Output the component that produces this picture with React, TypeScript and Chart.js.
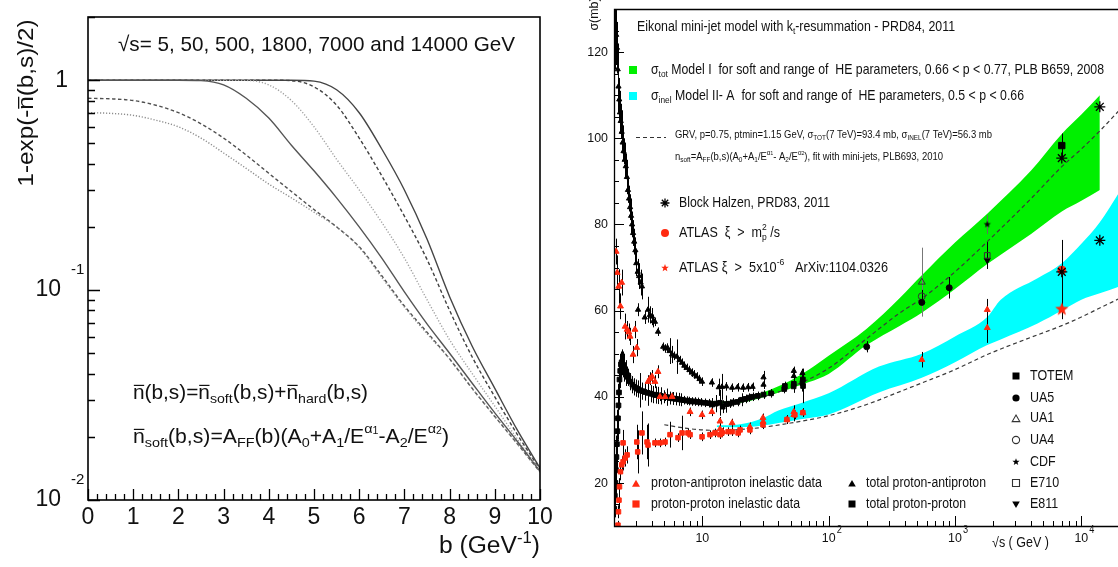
import React, { useEffect, useRef } from 'react';
import { Chart, registerables } from 'chart.js';
Chart.register(...registerables);

const FONT = '"Liberation Sans", Arial, Helvetica, sans-serif';

// ================= LEFT PANEL DATA =================
const bValues = [0, 0.5, 1, 1.5, 2, 2.5, 3, 3.5, 4, 4.5, 5, 5.5, 6, 6.5, 7, 7.5, 8, 8.5, 9, 9.5, 10];
const energyLabels = ['5 GeV', '50 GeV', '500 GeV', '1800 GeV', '7000 GeV', '14000 GeV'];
const prob5 = [0.70, 0.695, 0.68, 0.645, 0.60, 0.53, 0.45, 0.38, 0.32, 0.275, 0.235, 0.20, 0.16, 0.115, 0.083, 0.062, 0.047, 0.034, 0.025, 0.0185, 0.0136];
const prob50 = [0.82, 0.815, 0.80, 0.76, 0.70, 0.62, 0.53, 0.44, 0.36, 0.295, 0.242, 0.20, 0.161, 0.117, 0.084, 0.063, 0.047, 0.034, 0.025, 0.0185, 0.0136];
const prob500 = [1, 1, 1, 1, 1, 0.995, 0.95, 0.82, 0.66, 0.49, 0.37, 0.275, 0.20, 0.142, 0.098, 0.069, 0.050, 0.036, 0.026, 0.019, 0.0137];
const prob1800 = [1, 1, 1, 1, 1, 1, 1, 0.998, 0.95, 0.80, 0.60, 0.42, 0.30, 0.21, 0.142, 0.09, 0.058, 0.040, 0.028, 0.0195, 0.0138];
const prob7000 = [1, 1, 1, 1, 1, 1, 1, 1, 1, 0.995, 0.93, 0.76, 0.53, 0.35, 0.225, 0.14, 0.08, 0.048, 0.031, 0.0205, 0.014];
const prob14000 = [1, 1, 1, 1, 1, 1, 1, 1, 1, 1, 0.99, 0.90, 0.70, 0.47, 0.30, 0.175, 0.093, 0.054, 0.034, 0.0215, 0.0142];
const leftXTicks = [0, 1, 2, 3, 4, 5, 6, 7, 8, 9, 10];
const leftYTicks = [1, 0.1, 0.01];
const leftYTickText = ['1', '10', '10'];
const leftYTickExp = ['', '-1', '-2'];

// ================= RIGHT PANEL DATA =================
// total proton-antiproton (black triangles)
const pbarTotS = [2.02, 2.05, 2.08, 2.11, 2.14, 2.17, 2.2, 2.23, 2.26, 2.3, 2.34, 2.38, 2.43, 2.48, 2.53, 2.58, 2.63, 2.68, 2.73, 2.78, 2.83, 2.89, 2.95, 3.0, 3.08, 3.16, 3.25, 3.33,
  3.1, 3.5, 3.72, 3.85, 4.0, 4.1, 4.22, 4.46, 4.9, 5.1, 5.3, 5.5, 5.76, 6.0, 6.3, 6.6, 6.9, 7.2, 7.5, 7.9, 8.25, 8.6, 9.0, 9.5, 9.95, 11.9, 13.5, 14.3, 15.5, 17.2, 19, 21, 23, 25, 30.5, 30.5, 53, 53, 62];
const pbarTotSig = [127, 125, 124, 121, 116, 112, 109, 106, 104, 101.5, 99, 97, 95, 93.5, 91, 88, 86, 84, 82, 80, 78, 76, 74, 71, 69, 68, 66.5, 65.6,
  60.2, 58.4, 60.2, 59, 58.6, 57.6, 57.4, 55.1, 51.6, 51.2, 51.4, 50.6, 49.8, 49.5, 49.3, 48.5, 47.9, 47.2, 46.7, 46.2, 45.6, 45.2, 44.7, 44.1, 43.5, 43.3, 42.2, 42.3, 42.4, 42.1, 42.2, 42.1, 42.2, 42.3, 42.8, 44.5, 44.8, 46.0, 45.5];
const pbarTotErr = [8, 9, 7, 6, 6, 6, 5, 5, 4, 5, 4, 3, 4, 3, 4, 3, 3, 3, 4, 3, 3, 3, 3, 3, 3, 3, 3, 3,
  1.5, 1.5, 3, 2, 2, 1.5, 1, 1, 1, 1, 1, 3, 2, 1, 4, 1, 1, 1, 1, 1, 1, 1, 1, 1, 1, 1, 2, 3, 1, 1, 1, 1, 1, 1, 1, 1.5, 1, 1, 1];
// total proton-proton (black squares)
const ppTotS = [2.01, 2.03, 2.05, 2.07, 2.09, 2.11, 2.13, 2.15, 2.17, 2.19, 2.21, 2.24, 2.27, 2.3, 2.34, 2.38, 2.42, 2.46, 2.5, 2.55, 2.6, 2.7, 2.8, 2.9, 3.0, 3.1, 3.2, 3.35, 3.5, 3.7, 3.9, 4.1, 4.3, 4.5, 4.7, 5.0, 5.3, 5.6, 5.9, 6.2, 6.5, 6.8, 7.1, 7.5, 7.9, 8.3, 8.7, 9.2, 9.7, 10.5, 11.3, 12, 12.8, 13.8, 14.5, 15.5, 16.5, 17.5, 19, 20.5, 22, 23.5, 25, 27.5, 30.5, 35, 44.5, 45, 52.8, 53, 62, 62.5, 62.7];
const ppTotSig = [14, 17, 20, 23, 26, 29, 32, 35, 38, 41, 44, 46, 47.5, 48, 47.5, 47, 46.5, 46, 45.5, 45, 44.5, 43.5, 42.8, 42.3, 42, 41.8, 41.5, 41.3, 41.1, 40.9, 40.7, 40.5, 40.4, 40.3, 40.2, 40.0, 39.9, 39.7, 39.6, 39.5, 39.4, 39.3, 39.2, 39.1, 39.0, 38.9, 38.9, 38.8, 38.7, 38.6, 38.5, 38.2, 38.4, 38.6, 37.7, 38.3, 38.4, 38.7, 38.8, 39.3, 39.5, 39.8, 40.0, 40.2, 40.5, 40.8, 41.8, 42.5, 42.4, 43, 43.2, 44, 42.5];
const ppTotErr = [4, 5, 6, 6, 5, 6, 5, 5, 5, 4, 4, 4, 3, 3, 3, 3, 3, 2, 3, 2, 2, 2, 2, 2, 2, 2, 4, 2, 2, 3, 2, 2, 2, 2, 2, 1.5, 2, 1.5, 1.5, 1.5, 1.5, 1.5, 1, 1, 1, 1, 1, 1, 1, 1, 1, 1.5, 2, 3, 1.5, 2, 1, 1, 1, 1.5, 1, 1, 1, 1, 1, 1, 1, 1, 1.5, 1, 2, 2.5, 4];
// proton-antiproton inelastic (red triangles)
const pbarInelS = [2.08, 2.12, 2.18, 2.25, 2.3, 2.45, 2.54, 2.62, 2.68, 2.83, 2.93, 3.03, 3.72, 3.85, 4.0, 4.22, 4.46, 4.62, 5.07, 5.76, 8.0, 9.95, 11.9, 13.8, 13.8, 14.5, 17.2, 23.8, 30.2, 30.3, 46.7, 53, 53, 62.5, 546, 1800, 1800];
const pbarInelSig = [73.7, 68.8, 65.6, 61, 66.5, 56.3, 55.6, 55, 54, 49.8, 55.6, 51.4, 43.5, 44.2, 44.7, 43.5, 45.8, 40, 40, 40, 36.5, 35.8, 36.5, 34.3, 32.5, 31.9, 33.9, 33.0, 35.1, 34.2, 34.7, 35.8, 36.5, 36.3, 48.6, 60.2, 56.0];
const pbarInelErr = [3, 4, 4, 3, 3, 3, 2, 2, 2, 2, 2, 2, 1.5, 1.5, 1.5, 1.5, 1.5, 1, 1, 1, 1, 1, 1, 1, 1.5, 1, 1, 1, 1, 1, 1, 1.5, 1.5, 1, 1.8, 2.5, 3.5];
// proton-proton inelastic (red squares)
const ppInelS = [2.15, 2.17, 2.19, 2.21, 2.25, 2.3, 2.36, 2.45, 2.54, 2.36, 3.03, 3.08, 3.33, 3.65, 3.72, 4.22, 4.62, 5.07, 5.55, 6.42, 6.91, 7.7, 8.0, 9.95, 11.5, 12.6, 13.8, 14.3, 16, 17.2, 19.2, 19.9, 23.8, 30.2, 46.7, 54, 62.5];
const ppInelSig = [10.2, 13.3, 16, 19.1, 22.6, 24.2, 24.9, 25.8, 26.5, 29.3, 29.5, 27.2, 31.6, 29.5, 28.8, 29.3, 29.3, 29.5, 31.2, 30.5, 31.6, 31.6, 31.2, 30.7, 31.2, 31.6, 31.2, 31.6, 31.9, 31.9, 31.6, 32.3, 32.3, 33.5, 34.7, 35.8, 36.3];
const ppInelErr = [1, 1.5, 2, 2, 2, 2, 2, 2, 2, 3, 4, 5, 5, 4, 5, 1, 1, 1, 3, 1, 4, 1, 1, 1, 1, 1, 1, 1, 1, 1, 1, 1, 1, 1, 1, 1, 1];
// collider experiments
const totemS = [7000]; const totemSig = [98.3]; const totemErr = [2.8];
const ua5S = [200, 546, 900]; const ua5Sig = [51.6, 61.9, 65.3]; const ua5Err = [1.3, 1.5, 2.5];
const ua1S = [546]; const ua1Sig = [66.6]; const ua1Err = [8];
const ua4S = [546]; const ua4Sig = [63.3]; const ua4Err = [1.5];
const cdfS = [1800]; const cdfSig = [80.0]; const cdfErr = [2.2];
const e710S = [1800]; const e710Sig = [72.8]; const e710Err = [3.1];
const e811S = [1800]; const e811Sig = [71.7]; const e811Err = [2.0];
const blockHalzenS = [7000, 14000, 7000, 14000]; const blockHalzenSig = [95.4, 107.3, 69.0, 76.3];
const atlasCircS = [7000]; const atlasCircSig = [69.4]; const atlasCircErr = [7];
const atlasStarS = [7000]; const atlasStarSig = [60.3]; const atlasStarErr = [2.3];
// model bands
const greenS = [10, 15, 20, 30, 50, 70, 100, 200, 367, 546, 1000, 1800, 4000, 7000, 10000, 14000];
const greenLo = [38.6, 38.3, 38.6, 39.8, 41.9, 43.4, 45.3, 52.0, 56.5, 59.5, 65.0, 70.8, 77.8, 83.0, 85.5, 88.0];
const greenHi = [39.0, 38.9, 39.5, 41.0, 43.8, 46.3, 49.5, 55.8, 63.0, 68.2, 75.8, 82.5, 92.5, 101.0, 105.5, 110.0];
const cyanS = [13, 20, 30, 40, 60, 100, 250, 546, 1000, 1800, 2300, 4500, 7000, 10000, 14000, 20000];
const cyanLo = [33.0, 32.9, 33.3, 33.9, 34.8, 35.9, 41.0, 44.4, 48.0, 52.0, 53.3, 57.0, 60.0, 62.5, 64.0, 65.6];
const cyanHi = [33.3, 33.6, 35.0, 36.8, 38.5, 40.8, 47.0, 50.0, 54.0, 58.5, 62.5, 67.5, 71.0, 75.5, 80.5, 87.5];
const grvTotS = [10, 15, 20, 30, 50, 100, 200, 367, 546, 1000, 1800, 4000, 7000, 10000, 14000, 20000];
const grvTotSig = [38.5, 38.4, 38.9, 40.0, 42.2, 46.6, 53.5, 59.5, 62.8, 69.0, 76.0, 86.0, 93.4, 97.5, 101.7, 106.5];
const grvInelS = [5, 7, 10, 15, 20, 30, 50, 100, 200, 367, 546, 1000, 1800, 4000, 7000, 10000, 14000, 20000];
const grvInelSig = [33.5, 32.8, 32.3, 32.2, 32.4, 32.9, 33.9, 35.6, 38.2, 41.2, 43.2, 46.3, 49.8, 53.8, 56.5, 58.5, 60.6, 62.8];
const rightXTicks = [10, 100, 1000, 10000];
const rightXTickExp = ['', '2', '3', '4'];
const rightYTicks = [20, 40, 60, 80, 100, 120];

// ================= helpers =================
type Seg = [string, string?];
function segSize(k: string | undefined, size: number) {
  if (k === 'sub' || k === 'sup' || k === 'subb') return size * 0.68;
  if (k === 'ss') return size * 0.5;
  return size;
}
function measureSegs(ctx: CanvasRenderingContext2D, segs: Seg[], size: number) {
  let w = 0; let last = 0;
  for (const [t, k] of segs) {
    ctx.font = `${segSize(k, size)}px ${FONT}`;
    const tw = ctx.measureText(t).width;
    if (k === 'subb') { w += Math.max(0, tw - last); } else { w += tw; }
    last = tw;
  }
  return w;
}
function rich(ctx: CanvasRenderingContext2D, segs: Seg[], x: number, y: number, size: number,
  o: { w?: number; sx?: number; align?: string; rot?: number; color?: string } = {}) {
  ctx.save();
  ctx.translate(x, y);
  if (o.rot) ctx.rotate(o.rot);
  const nat = measureSegs(ctx, segs, size);
  const sx = o.w ? o.w / nat : (o.sx || 1);
  ctx.scale(sx, 1);
  let cx = o.align === 'center' ? -nat / 2 : o.align === 'right' ? -nat : 0;
  ctx.fillStyle = o.color || '#111';
  ctx.strokeStyle = o.color || '#111';
  ctx.textBaseline = 'middle';
  ctx.textAlign = 'left';
  let last = 0;
  for (const [t, k] of segs) {
    const s = segSize(k, size);
    ctx.font = `${s}px ${FONT}`;
    const tw = ctx.measureText(t).width;
    let dy = 0;
    if (k === 'sub' || k === 'subb') dy = size * 0.32;
    if (k === 'sup') dy = -size * 0.38;
    if (k === 'ss') dy = -size * 0.3;
    if (k === 'subb') cx -= last;
    ctx.fillText(t, cx, dy);
    if (k === 'bar') {
      ctx.lineWidth = Math.max(1, size * 0.06);
      ctx.beginPath();
      ctx.moveTo(cx + size * 0.04, -size * 0.38);
      ctx.lineTo(cx + tw - size * 0.02, -size * 0.38);
      ctx.stroke();
    }
    cx += k === 'subb' ? Math.max(tw, last) : tw;
    last = tw;
  }
  ctx.restore();
}
function starPath(ctx: CanvasRenderingContext2D, cx: number, cy: number, R: number) {
  ctx.beginPath();
  for (let i = 0; i < 10; i++) {
    const r = i % 2 === 0 ? R : R * 0.42;
    const a = -Math.PI / 2 + i * Math.PI / 5;
    ctx.lineTo(cx + r * Math.cos(a), cy + r * Math.sin(a));
  }
  ctx.closePath();
}
function makeStar(R: number, color: string) {
  const c = document.createElement('canvas');
  const s = Math.ceil(R * 2 + 2);
  c.width = s; c.height = s;
  const g = c.getContext('2d')!;
  starPath(g, s / 2, s / 2, R);
  g.fillStyle = color; g.fill();
  return c;
}
function marker(ctx: CanvasRenderingContext2D, kind: string, x: number, y: number, r: number, color: string, filled = true) {
  ctx.save();
  ctx.fillStyle = color; ctx.strokeStyle = color; ctx.lineWidth = 1.1;
  ctx.beginPath();
  if (kind === 'square') { ctx.rect(x - r, y - r, 2 * r, 2 * r); }
  else if (kind === 'circle') { ctx.arc(x, y, r, 0, Math.PI * 2); }
  else if (kind === 'tri') { ctx.moveTo(x, y - r); ctx.lineTo(x + r * 0.95, y + r * 0.65); ctx.lineTo(x - r * 0.95, y + r * 0.65); ctx.closePath(); }
  else if (kind === 'dtri') { ctx.moveTo(x, y + r); ctx.lineTo(x + r * 0.95, y - r * 0.65); ctx.lineTo(x - r * 0.95, y - r * 0.65); ctx.closePath(); }
  else if (kind === 'star') { starPath(ctx, x, y, r); }
  if (kind === 'aster') {
    for (let i = 0; i < 4; i++) {
      const a = i * Math.PI / 4;
      ctx.moveTo(x - r * Math.cos(a), y - r * Math.sin(a));
      ctx.lineTo(x + r * Math.cos(a), y + r * Math.sin(a));
    }
    ctx.lineWidth = 1.3; ctx.stroke();
  } else if (filled) ctx.fill(); else ctx.stroke();
  ctx.restore();
}
function pts(xs: number[], ys: number[]) { return xs.map((v, i) => ({ x: v, y: ys[i] })); }

// ================= LEFT CHART =================
const leftDecor = {
  id: 'leftDecor',
  afterDraw(chart: any) {
    const { ctx, chartArea: a, scales } = chart;
    const x = scales.x, y = scales.y;
    ctx.save();
    ctx.strokeStyle = '#000';
    ctx.lineWidth = 1.6;
    ctx.strokeRect(a.left, a.top, a.right - a.left, a.bottom - a.top);
    ctx.lineWidth = 1.3;
    ctx.beginPath();
    for (const d of [0.01, 0.1, 1]) {
      for (let m = 1; m <= 9; m++) {
        const v = m * d; if (v > 2.0001) break;
        const py = Math.round(y.getPixelForValue(v)) + 0.5;
        const len = m === 1 ? 12 : 7;
        ctx.moveTo(a.left, py); ctx.lineTo(a.left + len, py);
      }
    }
    for (let i = 0; i <= 50; i++) {
      const px = Math.round(x.getPixelForValue(i * 0.2)) + 0.5;
      const len = i % 5 === 0 ? 11 : 6;
      ctx.moveTo(px, a.bottom); ctx.lineTo(px, a.bottom - len);
    }
    ctx.stroke();
    leftXTicks.forEach(t => rich(ctx, [[String(t)]], x.getPixelForValue(t), 518, 23, { align: 'center' }));
    leftYTicks.forEach((v, i) => {
      const py = y.getPixelForValue(v);
      if (leftYTickExp[i]) {
        rich(ctx, [[leftYTickText[i]]], a.left - 27, py, 23, { align: 'right' });
        rich(ctx, [[leftYTickExp[i]]], a.left - 17, py - 20, 15);
      } else {
        rich(ctx, [[leftYTickText[i]]], a.left - 20, py, 23, { align: 'right' });
      }
    });
    rich(ctx, [['b (GeV'], ['-1', 'sup'], [')']], a.right, 547, 23, { align: 'right', w: 101 });
    rich(ctx, [['1-exp(-'], ['n', 'bar'], ['(b,s)/2)']], 27, 103, 22, { align: 'center', rot: -Math.PI / 2, w: 167 });
    rich(ctx, [['√s= 5, 50, 500, 1800, 7000 and 14000 GeV']], 118, 45, 21, { w: 397 });
    rich(ctx, [['n', 'bar'], ['(b,s)='], ['n', 'bar'], ['soft', 'sub'], ['(b,s)+'], ['n', 'bar'], ['hard', 'sub'], ['(b,s)']], 133, 393, 20, { w: 235 });
    rich(ctx, [['n', 'bar'], ['soft', 'sub'], ['(b,s)=A'], ['FF', 'sub'], ['(b)(A'], ['0', 'sub'], ['+A'], ['1', 'sub'], ['/E'], ['α', 'sup'], ['1', 'ss'], ['-A'], ['2', 'sub'], ['/E'], ['α', 'sup'], ['2', 'ss'], [')']], 133, 437, 20, { w: 316 });
    ctx.restore();
  },
};

function leftConfig(): any {
  const curves = [prob5, prob50, prob500, prob1800, prob7000, prob14000];
  const colors = ['#8c8c8c', '#505050', '#555555', '#a0a0a0', '#404040', '#454545'];
  const dashes = [[1.2, 1.8], [3.5, 2.5], [], [1.2, 1.8], [3.5, 2.5], []];
  return {
    type: 'scatter',
    data: {
      datasets: curves.map((c, i) => ({
        label: energyLabels[i],
        data: pts(bValues, c),
        showLine: true,
        borderColor: colors[i],
        borderWidth: 1.4,
        borderDash: dashes[i],
        pointRadius: 0,
        cubicInterpolationMode: 'monotone',
        fill: false,
      })),
    },
    options: {
      responsive: false,
      animation: false,
      devicePixelRatio: 1,
      events: [],
      layout: { padding: { left: 88, right: 20, top: 17, bottom: 67 }, autoPadding: false },
      plugins: { legend: { display: false }, tooltip: { enabled: false }, title: { display: false } },
      scales: {
        x: { type: 'linear', min: 0, max: 10, display: false },
        y: { type: 'logarithmic', min: 0.01, max: 2, display: false },
      },
    },
    plugins: [leftDecor],
  };
}

// ================= RIGHT CHART =================
const RX = 560;
const GREEN = '#00f000';
const CYAN = '#00ffff';
const RED = '#ff2a10';

const errorBars = {
  id: 'errorBars',
  beforeDatasetsDraw(chart: any) {
    const { ctx, chartArea: a, scales } = chart;
    const x = scales.x, y = scales.y;
    ctx.save();
    ctx.beginPath(); ctx.rect(a.left, a.top, a.right - a.left, a.bottom - a.top); ctx.clip();
    chart.data.datasets.forEach((ds: any) => {
      if (!ds.errors) return;
      ctx.strokeStyle = ds.errorColor || '#000';
      ctx.lineWidth = ds.errorWidth || 1;
      ctx.beginPath();
      ds.data.forEach((p: any, j: number) => {
        const e = ds.errors[j]; if (!e) return;
        const px = Math.round(x.getPixelForValue(p.x)) + 0.5;
        ctx.moveTo(px, y.getPixelForValue(p.y - e));
        ctx.lineTo(px, y.getPixelForValue(p.y + e));
      });
      ctx.stroke();
    });
    ctx.restore();
  },
};

const rightDecor = {
  id: 'rightDecor',
  afterDraw(chart: any) {
    const { ctx, chartArea: a, scales } = chart;
    const x = scales.x, y = scales.y;
    const P = (v: number) => v - RX;
    ctx.save();
    ctx.strokeStyle = '#000';
    ctx.lineWidth = 1.3;
    ctx.beginPath();
    ctx.moveTo(a.right, a.top + 0.5); ctx.lineTo(a.left + 0.5, a.top + 0.5);
    ctx.lineTo(a.left + 0.5, a.bottom + 0.5); ctx.lineTo(a.right, a.bottom + 0.5);
    ctx.stroke();
    ctx.lineWidth = 1;
    ctx.beginPath();
    for (let v = 10; v <= 130; v += 5) {
      const py = Math.round(y.getPixelForValue(v)) + 0.5;
      const len = v % 20 === 0 ? 10 : 5;
      ctx.moveTo(a.left, py); ctx.lineTo(a.left + len, py);
    }
    for (const d of [1, 10, 100, 1000, 10000]) {
      for (let m = 1; m <= 9; m++) {
        const v = m * d; if (v < 2 || v > 19500) continue;
        const px = Math.round(x.getPixelForValue(v)) + 0.5;
        const len = m === 1 ? 10 : 5;
        ctx.moveTo(px, a.bottom); ctx.lineTo(px, a.bottom - len);
      }
    }
    ctx.stroke();
    // tick labels
    rightYTicks.forEach(v => rich(ctx, [[String(v)]], a.left - 6, y.getPixelForValue(v), 13.5, { align: 'right', sx: 0.92 }));
    rightXTicks.forEach((v, i) => {
      const px = x.getPixelForValue(v);
      rich(ctx, [['10']], px, 538, 13.5, { align: 'center', sx: 0.92 });
      if (rightXTickExp[i]) rich(ctx, [[rightXTickExp[i]]], px + 8, 530, 10, { sx: 0.92 });
    });
    rich(ctx, [['√s ( GeV )']], P(992), 543, 14, { w: 57 });
    rich(ctx, [['σ(mb)']], P(594), 14, 13.5, { align: 'center', rot: -Math.PI / 2, sx: 0.92 });
    // title + legends
    rich(ctx, [['Eikonal mini-jet model with k'], ['t', 'sub'], ['-resummation - PRD84, 2011']], P(637), 27, 14, { w: 318 });
    ctx.fillStyle = GREEN; ctx.fillRect(P(629), 66, 8, 8);
    ctx.fillStyle = CYAN; ctx.fillRect(P(629), 92, 8, 8);
    rich(ctx, [['σ'], ['tot', 'sub'], [' Model I  for soft and range of  HE parameters, 0.66 < p < 0.77, PLB B659, 2008']], P(651), 70, 14.5, { w: 453 });
    rich(ctx, [['σ'], ['inel', 'sub'], [' Model II- A  for soft and range of  HE parameters, 0.5 < p < 0.66']], P(651), 96, 14.5, { w: 373 });
    ctx.save();
    ctx.strokeStyle = '#333'; ctx.lineWidth = 1.2; ctx.setLineDash([4, 3]);
    ctx.beginPath(); ctx.moveTo(P(636), 137.5); ctx.lineTo(P(666), 137.5); ctx.stroke();
    ctx.restore();
    rich(ctx, [['GRV, p=0.75, ptmin=1.15 GeV, σ'], ['TOT', 'sub'], ['(7 TeV)=93.4 mb, σ'], ['INEL', 'sub'], ['(7 TeV)=56.3 mb']], P(675), 135, 10.5, { w: 317 });
    rich(ctx, [['n'], ['soft', 'sub'], ['=A'], ['FF', 'sub'], ['(b,s)(A'], ['0', 'sub'], ['+A'], ['1', 'sub'], ['/E'], ['α', 'sup'], ['1', 'ss'], ['- A'], ['2', 'sub'], ['/E'], ['α', 'sup'], ['2', 'ss'], ['), fit with mini-jets, PLB693, 2010']], P(675), 157, 10.5, { w: 268 });
    marker(ctx, 'aster', P(665), 203, 4.5, '#000');
    rich(ctx, [['Block Halzen, PRD83, 2011']], P(679), 203, 14.5, { w: 151 });
    marker(ctx, 'circle', P(665), 233, 4, RED);
    rich(ctx, [['ATLAS  ξ  >  m'], ['2', 'sup'], ['p', 'subb'], [' /s']], P(679), 233, 14.5, { w: 101 });
    marker(ctx, 'star', P(665), 268, 4, RED);
    rich(ctx, [['ATLAS ξ  >  5x10'], ['-6', 'sup'], ['   ArXiv:1104.0326']], P(679), 268, 14.5, { w: 209 });
    // bottom legend
    marker(ctx, 'tri', P(636), 484, 4.2, RED);
    rich(ctx, [['proton-antiproton inelastic data']], P(651), 483, 14, { w: 171 });
    marker(ctx, 'square', P(636), 504, 3.6, RED);
    rich(ctx, [['proton-proton inelastic data']], P(651), 504, 14, { w: 149 });
    marker(ctx, 'tri', P(852), 484, 4, '#000');
    rich(ctx, [['total proton-antiproton']], P(866), 483, 14, { w: 120 });
    marker(ctx, 'square', P(852), 504, 3.5, '#000');
    rich(ctx, [['total proton-proton']], P(866), 504, 14, { w: 100 });
    // right legend
    const lx = P(1016), tx = P(1030);
    marker(ctx, 'square', lx, 376, 3.5, '#000'); rich(ctx, [['TOTEM']], tx, 376, 14.5, { sx: 0.86 });
    marker(ctx, 'circle', lx, 398, 3.6, '#000'); rich(ctx, [['UA5']], tx, 398, 14.5, { sx: 0.86 });
    marker(ctx, 'tri', lx, 419, 4, '#333', false); rich(ctx, [['UA1']], tx, 418, 14.5, { sx: 0.86 });
    marker(ctx, 'circle', lx, 440, 3.6, '#333', false); rich(ctx, [['UA4']], tx, 440, 14.5, { sx: 0.86 });
    marker(ctx, 'star', lx, 462, 3.8, '#000'); rich(ctx, [['CDF']], tx, 462, 14.5, { sx: 0.86 });
    marker(ctx, 'square', lx, 483, 3.5, '#333', false); rich(ctx, [['E710']], tx, 483, 14.5, { sx: 0.86 });
    marker(ctx, 'dtri', lx, 504, 4, '#000'); rich(ctx, [['E811']], tx, 504, 14.5, { sx: 0.86 });
    ctx.restore();
  },
};

function rightConfig(): any {
  const redStar = makeStar(7, RED);
  const cdfStar = makeStar(3.8, '#000');
  const band = (xs: number[], ys: number[], color: string, fill: any) => ({
    type: 'line', data: pts(xs, ys), borderWidth: 0, borderColor: 'rgba(0,0,0,0)', backgroundColor: color,
    pointRadius: 0, fill, cubicInterpolationMode: 'monotone', order: 30,
  });
  const dashed = (xs: number[], ys: number[]) => ({
    type: 'line', data: pts(xs, ys), borderColor: '#3a3a3a', borderWidth: 1.2, borderDash: [4, 3],
    pointRadius: 0, fill: false, cubicInterpolationMode: 'monotone', order: 20,
  });
  const scat = (xs: number[], ys: number[], errs: number[] | null, style: any, color: string, radius: number, extra: any = {}) => ({
    type: 'scatter', data: pts(xs, ys), errors: errs, pointStyle: style,
    pointRadius: radius, backgroundColor: color, borderColor: color, borderWidth: 1, order: 5, ...extra,
  });
  return {
    type: 'scatter',
    data: {
      datasets: [
        band(greenS, greenHi, GREEN, '+1'),
        band(greenS, greenLo, GREEN, false),
        band(cyanS, cyanHi, CYAN, '+1'),
        band(cyanS, cyanLo, CYAN, false),
        dashed(grvTotS, grvTotSig),
        dashed(grvInelS, grvInelSig),
        scat(ppInelS, ppInelSig, ppInelErr, 'rect', RED, 3.2),
        scat(pbarInelS, pbarInelSig, pbarInelErr, 'triangle', RED, 3.4),
        scat(ppTotS, ppTotSig, ppTotErr, 'rect', '#000', 3.3),
        scat(pbarTotS, pbarTotSig, pbarTotErr, 'triangle', '#000', 3),
        scat(ua5S, ua5Sig, ua5Err, 'circle', '#000', 3),
        scat(ua1S, ua1Sig, ua1Err, 'triangle', 'rgba(0,0,0,0)', 4, { borderColor: '#333', errorColor: '#777' }),
        scat(ua4S, ua4Sig, ua4Err, 'circle', 'rgba(0,0,0,0)', 3.5, { borderColor: '#333' }),
        scat(cdfS, cdfSig, cdfErr, cdfStar, '#000', 4, { errorColor: '#666' }),
        scat(e710S, e710Sig, e710Err, 'rect', 'rgba(0,0,0,0)', 4, { borderColor: '#333' }),
        scat(e811S, e811Sig, e811Err, 'triangle', '#000', 3.5, { rotation: 180 }),
        scat(totemS, totemSig, totemErr, 'rect', '#000', 4.5),
        scat(atlasCircS, atlasCircSig, atlasCircErr, 'circle', RED, 4),
        scat(atlasStarS, atlasStarSig, atlasStarErr, redStar, RED, 7),
        scat(blockHalzenS, blockHalzenSig, null, 'star', '#000', 5.5, { borderWidth: 1.3, order: 1 }),
      ],
    },
    options: {
      responsive: false,
      animation: false,
      devicePixelRatio: 1,
      events: [],
      layout: { padding: { left: 54, right: 0, top: 9, bottom: 41 }, autoPadding: false },
      plugins: {
        legend: { display: false }, tooltip: { enabled: false }, title: { display: false },
        filler: { drawTime: 'beforeDatasetsDraw' },
      },
      scales: {
        x: { type: 'logarithmic', min: 2, max: 19500, display: false },
        y: { type: 'linear', min: 10, max: 130, display: false },
      },
    },
    plugins: [errorBars, rightDecor],
  };
}

export default function App() {
  const leftRef = useRef<HTMLCanvasElement>(null);
  const rightRef = useRef<HTMLCanvasElement>(null);
  useEffect(() => {
    const c1 = new Chart(leftRef.current!, leftConfig());
    const c2 = new Chart(rightRef.current!, rightConfig());
    return () => { c1.destroy(); c2.destroy(); };
  }, []);
  return (
    <div style={{ position: 'absolute', left: 0, top: 0, width: 1118, height: 567, background: '#fff', overflow: 'hidden' }}>
      <canvas ref={leftRef} width={560} height={567} style={{ position: 'absolute', left: 0, top: 0, width: 560, height: 567 }} />
      <canvas ref={rightRef} width={558} height={567} style={{ position: 'absolute', left: 560, top: 0, width: 558, height: 567 }} />
    </div>
  );
}
